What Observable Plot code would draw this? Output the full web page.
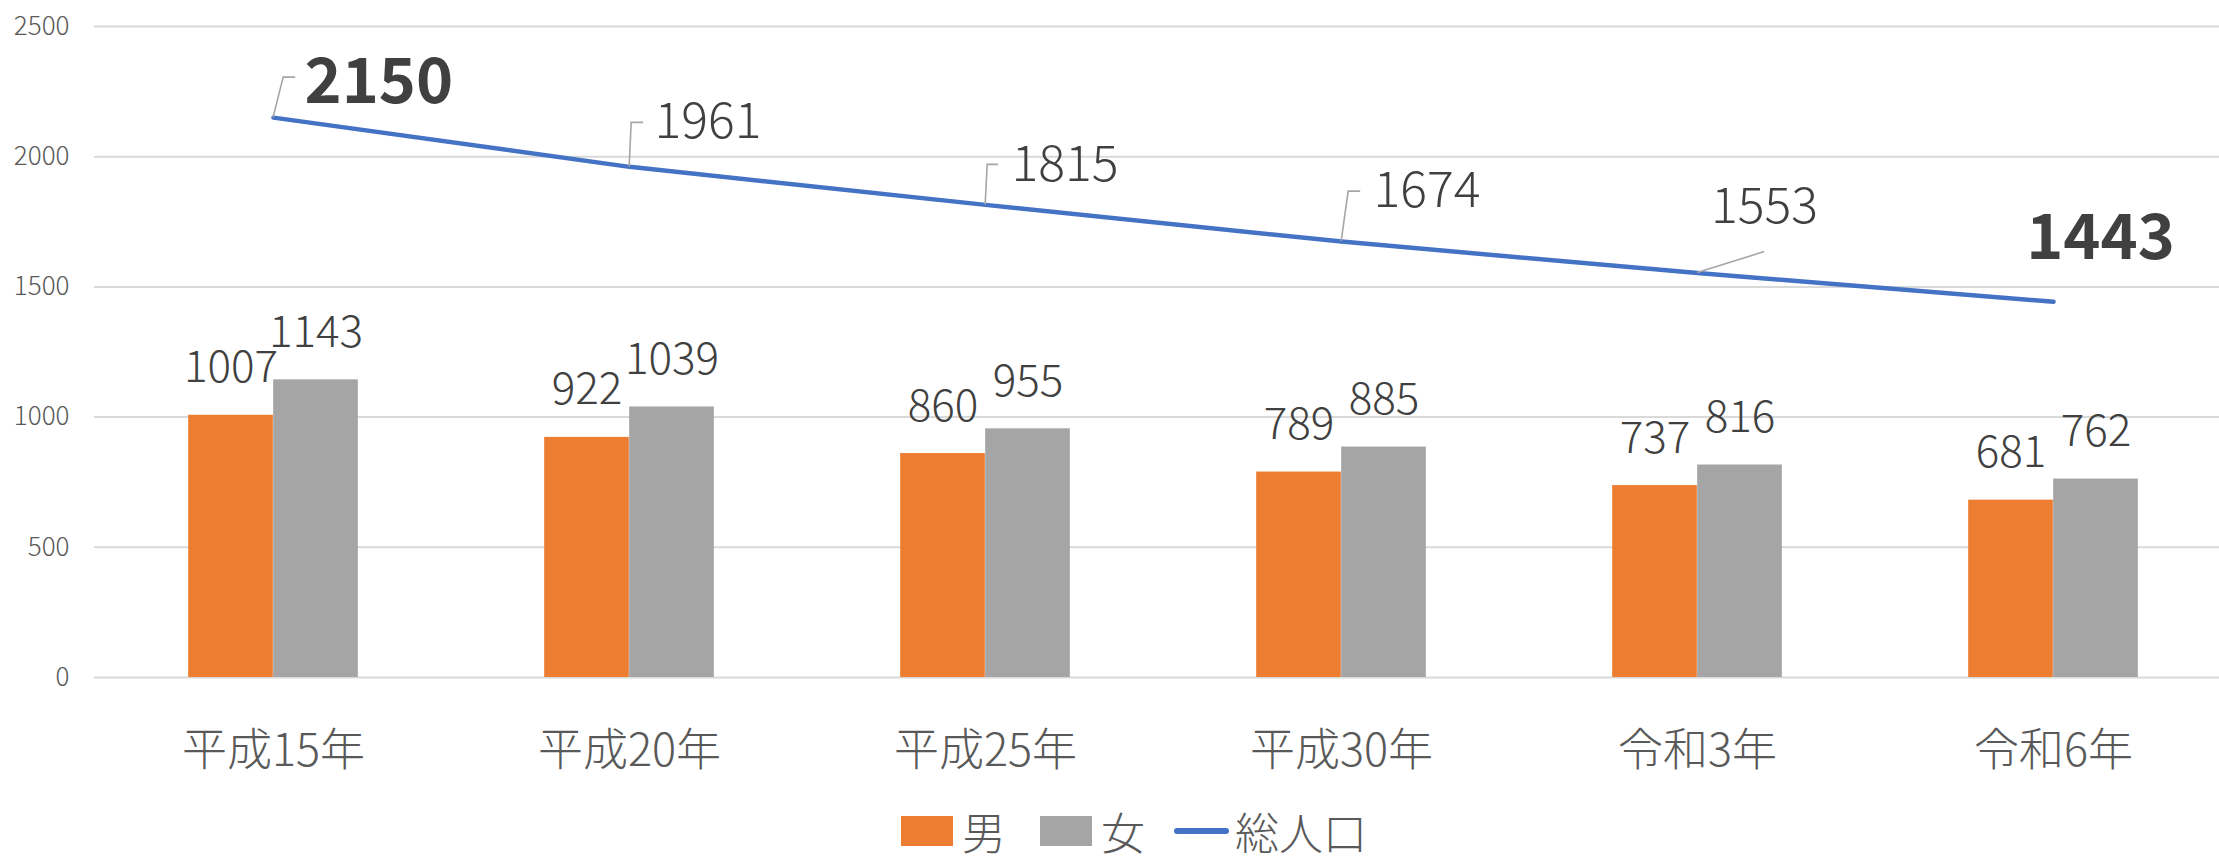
<!DOCTYPE html>
<html>
<head>
<meta charset="utf-8">
<script src="https://cdn.jsdelivr.net/npm/d3@7"></script>
<script src="https://cdn.jsdelivr.net/npm/@observablehq/plot@0.6"></script>
<style>
  html, body { margin: 0; padding: 0; background: #fff; overflow: hidden; }
  #chart svg { display: block; }
  #legend {
    height: 62px; display: flex; align-items: center;
    padding-left: 901px; box-sizing: border-box;
    font-family: 'Noto Sans CJK JP', sans-serif; font-weight: 300;
    font-size: 44px; line-height: 1; color: #595959;
  }
  .sw { display: inline-block; width: 52px; height: 30px; margin-right: 9px; }
  .ln { display: inline-block; width: 55px; height: 6px; border-radius: 3px; margin-right: 6px; }
  .item { display: flex; align-items: center; }
</style>
</head>
<body>
<div id="chart"></div>
<div id="legend"></div>
<script>
// ---- data ----
const categories = ["平成15年", "平成20年", "平成25年", "平成30年", "令和3年", "令和6年"];
const male   = [1007, 922, 860, 789, 737, 681];
const female = [1143, 1039, 955, 885, 816, 762];
const total  = [2150, 1961, 1815, 1674, 1553, 1443];
const yTicks = [0, 500, 1000, 1500, 2000, 2500];
const seriesNames = ["男", "女", "総人口"];

// ---- styles / layout ----
const colors = {male: "#ED7D31", female: "#A5A5A5", total: "#4472C4"};
const FONT = "'Noto Sans CJK JP', sans-serif";
const W = 2219, H = 800;
const xRange = [94, 2232];
const barW = 85;
const bw = (xRange[1] - xRange[0]) / categories.length;

// label placement for the total line (pixel offsets from each point)
const lineLabelLayout = [
  {anchor: "start",  dx: 31, dy: -15, bold: true,  leader: [[10, -40], [22, -40]]},
  {anchor: "start",  dx: 25, dy: -29, bold: false, leader: [[2, -44], [14, -44]]},
  {anchor: "start",  dx: 26, dy: -24, bold: false, leader: [[2, -40], [13, -40]]},
  {anchor: "start",  dx: 32, dy: -35, bold: false, leader: [[7, -50], [19, -50]]},
  {anchor: "middle", dx: 67, dy: -50, bold: false, leader: [[67, -21]]},
  {anchor: "middle", dx: 47, dy: -43, bold: true,  leader: null}
];

const rows = categories.map((c, i) => ({cat: c, male: male[i], female: female[i], total: total[i], i}));

const lineLabelMarks = rows.map((r, i) => {
  const L = lineLabelLayout[i];
  return Plot.text([r], {
    x: "cat", y: "total", text: d => String(d.total),
    textAnchor: L.anchor, lineAnchor: "bottom", dx: L.dx, dy: L.dy,
    fontSize: L.bold ? 63 : 50, fontWeight: L.bold ? 700 : 300,
    fill: "#404040", fontFamily: FONT
  });
});

const leaderMark = Plot.dot(rows, {
  x: "cat", y: "total",
  render: (index, scales, values) => {
    const g = d3.create("svg:g");
    const off = bw / 2; // centre of the band
    for (const i of index) {
      const L = lineLabelLayout[i].leader;
      if (!L) continue;
      const px = values.x[i] + off, py = values.y[i];
      const pts = [[px, py], ...L.map(([dx, dy]) => [px + dx, py + dy])];
      g.append("path").attr("d", d3.line()(pts))
        .attr("fill", "none").attr("stroke", "#A6A6A6").attr("stroke-width", 1.6);
    }
    return g.node();
  }
});

const chart = Plot.plot({
  width: W, height: H,
  marginLeft: 94, marginRight: 0, marginTop: 26, marginBottom: H - 677,
  style: {fontFamily: FONT, background: "#fff"},
  x: {type: "band", domain: categories, range: xRange, padding: 0},
  y: {domain: [0, 2500], ticks: yTicks},
  marks: [
    Plot.gridY(yTicks, {stroke: "#D9D9D9", strokeOpacity: 1, strokeWidth: 2}),
    Plot.axisY(yTicks, {tickSize: 0, tickPadding: 25, fontSize: 26, fill: "#595959", fontWeight: 300, fontFamily: FONT, label: null, tickFormat: d => String(d)}),
    Plot.axisX({tickSize: 0, tickPadding: 57, fontSize: 45, fill: "#595959", fontWeight: 300, fontFamily: FONT, label: null}),
    Plot.barY(rows, {x: "cat", y: "male", fill: colors.male, insetLeft: bw / 2 - barW, insetRight: bw / 2}),
    Plot.barY(rows, {x: "cat", y: "female", fill: colors.female, insetLeft: bw / 2, insetRight: bw / 2 - barW}),
    Plot.text(rows, {x: "cat", y: "male", text: d => String(d.male), dx: -barW / 2, dy: -33, lineAnchor: "bottom", fontSize: 44, fontWeight: 300, fill: "#404040", fontFamily: FONT}),
    Plot.text(rows, {x: "cat", y: "female", text: d => String(d.female), dx: barW / 2, dy: -33, lineAnchor: "bottom", fontSize: 44, fontWeight: 300, fill: "#404040", fontFamily: FONT}),
    Plot.line(rows, {x: "cat", y: "total", stroke: colors.total, strokeWidth: 4.5, strokeLinecap: "round", strokeLinejoin: "round"}),
    leaderMark,
    ...lineLabelMarks
  ]
});
document.getElementById("chart").appendChild(chart);

// legend
const legend = document.getElementById("legend");
const swatches = [
  {name: seriesNames[0], cls: "sw", color: colors.male, gap: 34},
  {name: seriesNames[1], cls: "sw", color: colors.female, gap: 29},
  {name: seriesNames[2], cls: "ln", color: colors.total, gap: 0}
];
for (const s of swatches) {
  const item = document.createElement("div");
  item.className = "item";
  item.style.marginRight = s.gap + "px";
  const sw = document.createElement("span");
  sw.className = s.cls;
  sw.style.background = s.color;
  const t = document.createElement("span");
  t.textContent = s.name;
  item.appendChild(sw); item.appendChild(t);
  legend.appendChild(item);
}
</script>
</body>
</html>
